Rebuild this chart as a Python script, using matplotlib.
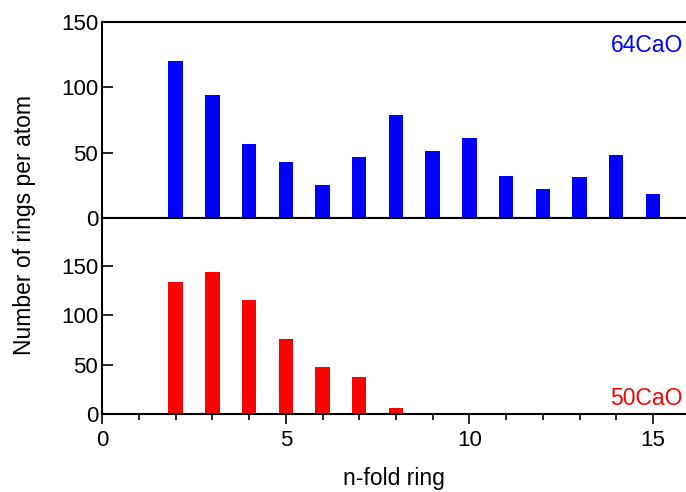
import matplotlib
matplotlib.use("Agg")
import matplotlib.pyplot as plt
from matplotlib.ticker import MultipleLocator

plt.rcParams['font.family'] = ['Liberation Sans', 'DejaVu Sans']

# ring size and rings per atom for the two compositions
rings = [2, 3, 4, 5, 6, 7, 8, 9, 10, 11, 12, 13, 14, 15]
cao64 = [120, 94, 57, 43, 25, 47, 79, 51, 61, 32, 22, 31, 48, 18]
cao50 = [134, 144, 116, 76, 48, 37, 6, 0.5, 0.5, 0.5, 0.5, 0.5, 0.5, 0.5]

fig = plt.figure(figsize=(6.86, 4.92), dpi=100)
ax1 = fig.add_axes([0.149, 0.557, 0.851, 0.398])
ax2 = fig.add_axes([0.149, 0.159, 0.851, 0.398])

ax1.bar(rings, cao64, width=0.39, color='#0000ff')
ax2.bar(rings, cao50, width=0.39, color='#ff0000')

ax1.set_ylim(0, 150)
ax2.set_ylim(0, 199)
for ax in (ax1, ax2):
    ax.set_xlim(0, 15.9)
    ax.xaxis.set_major_locator(MultipleLocator(5))
    ax.xaxis.set_minor_locator(MultipleLocator(1))
    ax.yaxis.set_major_locator(MultipleLocator(50))
    ax.tick_params(axis='y', direction='in', length=8, width=1.2, labelsize=16, pad=3)
    ax.tick_params(axis='x', which='major', direction='out', length=7, width=1.2,
                   labelsize=16, pad=5)
    ax.tick_params(axis='x', which='minor', direction='out', length=4, width=1.2)
    ax.spines['right'].set_visible(False)
    for s in ('left', 'top', 'bottom'):
        ax.spines[s].set_linewidth(1.5)

ax2.set_yticks([0, 50, 100, 150])
ax1.tick_params(axis='x', labelbottom=False)

ax1.text(0.995, 0.88, '64CaO', color='#0000ff', fontsize=16.5, ha='right', va='center',
         transform=ax1.transAxes)
ax2.text(0.995, 0.08, '50CaO', color='#ff0000', fontsize=16.5, ha='right', va='center',
         transform=ax2.transAxes)

ax2.set_xlabel('n-fold ring', fontsize=16.5, labelpad=11)
fig.text(0.036, 0.543, 'Number of rings per atom', rotation=90, fontsize=16.5,
         ha='center', va='center')

fig.savefig('out.png', dpi=100)
